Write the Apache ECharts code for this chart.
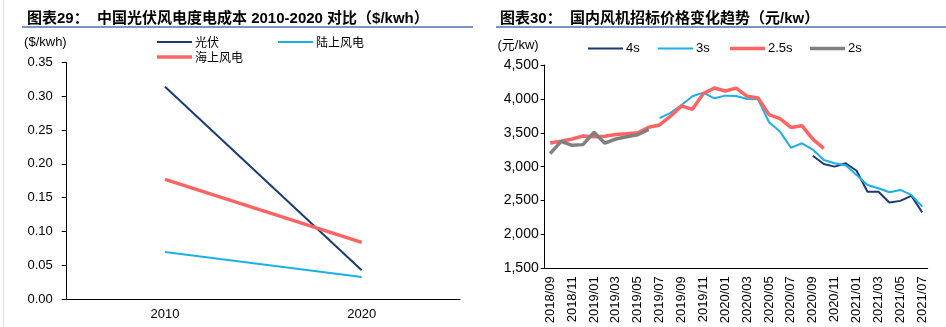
<!DOCTYPE html>
<html><head><meta charset="utf-8">
<script src="https://cdn.jsdelivr.net/npm/echarts@6/dist/echarts.min.js"></script>
<style>html,body{margin:0;padding:0;background:#fff}#c{width:946px;height:327px}</style>
</head><body><div id="c"></div>
<script>
// Left chart data
const yearsL = ['2010', '2020'];
const pvL = [0.314, 0.043];
const onshoreL = [0.070, 0.033];
const offshoreL = [0.177, 0.084];

// Right chart data
const months = ['2018/09','2018/10','2018/11','2018/12','2019/01','2019/02','2019/03','2019/04','2019/05','2019/06','2019/07','2019/08','2019/09','2019/10','2019/11','2019/12','2020/01','2020/02','2020/03','2020/04','2020/05','2020/06','2020/07','2020/08','2020/09','2020/10','2020/11','2020/12','2021/01','2021/02','2021/03','2021/04','2021/05','2021/06','2021/07'];
const s4 = [null,null,null,null,null,null,null,null,null,null,null,null,null,null,null,null,null,null,null,null,null,null,null,null,3160,3040,3000,3050,2940,2630,2630,2470,2495,2570,2325];
const s3 = [null,null,null,null,null,null,null,null,null,null,3715,3795,3910,4038,4092,4009,4048,4043,3998,3994,3655,3517,3278,3345,3252,3099,3050,3020,2878,2730,2681,2622,2656,2583,2410];
const s25 = [3350,3375,3408,3453,3442,3448,3473,3485,3500,3581,3615,3745,3897,3846,4078,4160,4117,4158,4038,4012,3768,3708,3578,3605,3406,3271,null,null,null,null,null,null,null,null,null];
const s2 = [3193,3374,3315,3325,3507,3347,3408,3440,3470,3550,null,null,null,null,null,null,null,null,null,null,null,null,null,null,null,null,null,null,null,null,null,null,null,null,null];

const titleL = '图表29：  中国光伏风电度电成本 2010-2020 对比（$/kwh）';
const titleR = '图表30：  国内风机招标价格变化趋势（元/kw）';

const FONT = '"Liberation Sans", Arial, "Noto Sans CJK SC", sans-serif';
const CJK = '"Noto Sans CJK SC", sans-serif';
const C_DARK = '#1B3A73', C_LIGHT = '#1AB0EA', C_RED = '#FF6464', C_GRAY = '#808080';

function leg(name, left, top, h, font, size) {
  return {data: [name], left: left, top: top, padding: 0, icon: 'rect', itemWidth: 35, itemHeight: h,
          textStyle: {fontFamily: font, fontSize: size, color: '#000', padding: [0, 0, 0, -2]}};
}

const chart = echarts.init(document.getElementById('c'), null, {renderer: 'canvas'});
const axisLineStyle = {color: '#000', width: 1};
chart.setOption({
  animation: false,
  backgroundColor: '#fff',
  textStyle: {fontFamily: FONT, color: '#000'},
  title: [
    {text: titleL, left: 22, top: 6, textStyle: {fontFamily: FONT, fontSize: 15, fontWeight: 'bold', color: '#000'}},
    {text: titleR, left: 495, top: 6, textStyle: {fontFamily: FONT, fontSize: 15, fontWeight: 'bold', color: '#000'}}
  ],
  graphic: [
    {type: 'line', shape: {x1: 22, y1: 27, x2: 473, y2: 27}, style: {stroke: '#4F73A8', lineWidth: 1.5}},
    {type: 'line', shape: {x1: 496, y1: 27, x2: 946, y2: 27}, style: {stroke: '#4F73A8', lineWidth: 1.5}},
    {type: 'line', shape: {x1: 3.5, y1: 0, x2: 3.5, y2: 327}, style: {stroke: '#dcdcdc', lineWidth: 1}}
  ],
  legend: [
    leg('光伏', 157, 36, 2, CJK, 12),
    leg('陆上风电', 278, 36, 2, CJK, 12),
    leg('海上风电', 157, 51, 3.5, CJK, 12),
    leg('4s', 588, 42, 2, FONT, 13),
    leg('3s', 658, 42, 2, FONT, 13),
    leg('2.5s', 730, 42, 3.5, FONT, 13),
    leg('2s', 810, 42, 3.5, FONT, 13)
  ],
  grid: [
    {left: 66.7, right: 486, top: 62.3, bottom: 27.7},
    {left: 544.7, right: 18.3, top: 65, bottom: 58.7}
  ],
  xAxis: [
    {type: 'category', gridIndex: 0, data: yearsL, boundaryGap: true,
     axisLine: {lineStyle: axisLineStyle}, axisTick: {length: 5, lineStyle: axisLineStyle},
     axisLabel: {fontSize: 13, color: '#000', margin: 9, fontFamily: FONT}},
    {type: 'category', gridIndex: 1, data: months, boundaryGap: true,
     axisLine: {lineStyle: axisLineStyle}, axisTick: {length: 5, lineStyle: axisLineStyle, interval: 1},
     axisLabel: {fontSize: 13, color: '#000', margin: 8, rotate: 90, interval: 1, fontFamily: FONT}}
  ],
  yAxis: [
    {type: 'value', gridIndex: 0, min: 0, max: 0.35, interval: 0.05,
     name: '($/kwh)', nameLocation: 'end', nameGap: 13,
     nameTextStyle: {fontSize: 13, color: '#000', align: 'right', fontFamily: FONT},
     axisLine: {show: true, lineStyle: axisLineStyle}, axisTick: {show: true, length: 5, lineStyle: axisLineStyle},
     splitLine: {show: false},
     axisLabel: {fontSize: 13, color: '#000', margin: 14, formatter: v => v.toFixed(2)}},
    {type: 'value', gridIndex: 1, min: 1500, max: 4500, interval: 500,
     name: '(元/kw)', nameLocation: 'end', nameGap: 13,
     nameTextStyle: {fontSize: 13, color: '#000', align: 'right', padding: [0, 6, 0, 0], fontFamily: FONT},
     axisLine: {show: true, lineStyle: axisLineStyle}, axisTick: {show: true, length: 4, lineStyle: axisLineStyle},
     splitLine: {show: false},
     axisLabel: {fontSize: 14, color: '#000', margin: 6, formatter: v => v.toLocaleString('en-US')}}
  ],
  series: [
    {name: '光伏', type: 'line', xAxisIndex: 0, yAxisIndex: 0, data: pvL, symbol: 'none', lineStyle: {color: C_DARK, width: 2}, itemStyle: {color: C_DARK}},
    {name: '陆上风电', type: 'line', xAxisIndex: 0, yAxisIndex: 0, data: onshoreL, symbol: 'none', lineStyle: {color: C_LIGHT, width: 2}, itemStyle: {color: C_LIGHT}},
    {name: '海上风电', type: 'line', xAxisIndex: 0, yAxisIndex: 0, data: offshoreL, symbol: 'none', lineStyle: {color: C_RED, width: 3.5}, itemStyle: {color: C_RED}},
    {name: '4s', type: 'line', xAxisIndex: 1, yAxisIndex: 1, data: s4, symbol: 'none', lineStyle: {color: C_DARK, width: 2}, itemStyle: {color: C_DARK}},
    {name: '3s', type: 'line', xAxisIndex: 1, yAxisIndex: 1, data: s3, symbol: 'none', lineStyle: {color: C_LIGHT, width: 2}, itemStyle: {color: C_LIGHT}},
    {name: '2.5s', type: 'line', xAxisIndex: 1, yAxisIndex: 1, data: s25, symbol: 'none', lineStyle: {color: C_RED, width: 3.5}, itemStyle: {color: C_RED}},
    {name: '2s', type: 'line', xAxisIndex: 1, yAxisIndex: 1, data: s2, symbol: 'none', lineStyle: {color: C_GRAY, width: 3.5}, itemStyle: {color: C_GRAY}}
  ]
});
</script></body></html>
